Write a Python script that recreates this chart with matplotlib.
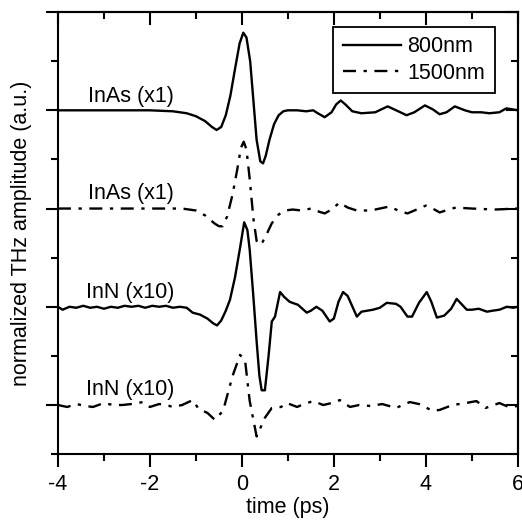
import numpy as np
import matplotlib.pyplot as plt
from matplotlib.ticker import MultipleLocator

plt.rcParams['font.family'] = ['Liberation Sans', 'DejaVu Sans']
plt.rcParams['axes.unicode_minus'] = False

# 数据：时间 (ps) 与归一化 THz 振幅（相对于各自基线的偏移）
t_inas800 = [-4.0, -3.0, -2.0, -1.5, -1.2, -1.0, -0.8, -0.65, -0.55, -0.45, -0.35, -0.25,
             -0.15, -0.05, 0.03, 0.1, 0.18, 0.25, 0.32, 0.4, 0.46, 0.52, 0.6, 0.7, 0.8,
             0.9, 1.0, 1.2, 1.4, 1.55, 1.65, 1.8, 1.95, 2.05, 2.15, 2.25, 2.4, 2.6, 2.9,
             3.17, 3.4, 3.58, 3.75, 3.98, 4.15, 4.3, 4.45, 4.63, 4.85, 5.0, 5.2, 5.38,
             5.6, 5.75, 6.0]
a_inas800 = [0.0, 0.0, 0.0, -0.01, -0.03, -0.06, -0.11, -0.17, -0.2, -0.17, -0.05, 0.15,
             0.42, 0.68, 0.79, 0.74, 0.5, 0.1, -0.3, -0.52, -0.54, -0.46, -0.3, -0.14,
             -0.05, -0.01, 0.0, 0.0, -0.01, 0.0, -0.03, -0.07, -0.02, 0.06, 0.1, 0.06,
             -0.01, -0.03, -0.02, 0.04, -0.01, -0.05, -0.02, 0.05, 0.01, -0.04, -0.02,
             0.04, 0.0, -0.02, -0.02, -0.03, -0.02, 0.02, 0.0]

t_inas1500 = [-4.0, -3.0, -2.0, -1.3, -1.0, -0.8, -0.6, -0.5, -0.42, -0.32, -0.2, -0.1,
              -0.02, 0.04, 0.1, 0.17, 0.25, 0.32, 0.38, 0.45, 0.55, 0.65, 0.8, 0.95,
              1.1, 1.3, 1.5, 1.6, 1.8, 1.95, 2.12, 2.3, 2.5, 2.8, 3.2, 3.4, 3.6, 3.8,
              4.0, 4.15, 4.3, 4.5, 4.65, 5.0, 5.5, 6.0]
a_inas1500 = [0.0, 0.0, 0.0, 0.0, -0.02, -0.07, -0.15, -0.18, -0.18, -0.08, 0.15, 0.4,
              0.62, 0.68, 0.6, 0.3, -0.1, -0.33, -0.37, -0.34, -0.25, -0.15, -0.06,
              -0.02, -0.01, -0.02, 0.0, -0.02, -0.05, -0.01, 0.06, 0.01, -0.02, -0.02,
              0.02, -0.02, -0.05, -0.01, 0.03, 0.0, -0.04, -0.01, 0.01, 0.0, -0.01, 0.0]

t_inn800 = [-4.0, -3.9, -3.75, -3.6, -3.45, -3.3, -3.15, -3.0, -2.85, -2.7, -2.55, -2.4,
            -2.25, -2.1, -1.95, -1.8, -1.65, -1.5, -1.35, -1.2, -1.07, -0.91, -0.75,
            -0.62, -0.54, -0.45, -0.35, -0.26, -0.15, -0.04, 0.05, 0.12, 0.17, 0.25,
            0.32, 0.38, 0.43, 0.5, 0.58, 0.65, 0.72, 0.83, 0.92, 1.04, 1.22, 1.41,
            1.5, 1.62, 1.75, 1.91, 2.0, 2.1, 2.2, 2.3, 2.5, 2.6, 2.85, 3.0, 3.15, 3.35,
            3.45, 3.6, 3.7, 3.85, 4.02, 4.12, 4.24, 4.4, 4.55, 4.67, 4.89, 5.0, 5.15,
            5.33, 5.45, 5.6, 5.76, 5.9, 6.0]
a_inn800 = [0.0, -0.03, 0.0, -0.01, 0.01, -0.01, 0.0, -0.02, 0.0, -0.01, 0.01, 0.0,
            0.01, -0.01, 0.01, 0.0, 0.01, -0.01, 0.0, -0.01, -0.06, -0.08, -0.12,
            -0.17, -0.19, -0.14, -0.04, 0.07, 0.3, 0.6, 0.86, 0.78, 0.58, 0.1, -0.35,
            -0.7, -0.85, -0.85, -0.5, -0.15, -0.1, 0.15, 0.1, 0.05, 0.02, -0.06,
            -0.04, 0.0, -0.04, -0.15, -0.12, 0.05, 0.15, 0.11, -0.1, -0.05, -0.03,
            -0.01, 0.04, 0.03, 0.0, -0.1, -0.1, 0.04, 0.15, 0.05, -0.11, -0.09, -0.02,
            0.08, -0.03, -0.03, -0.02, -0.05, -0.04, -0.03, 0.0, -0.01, 0.0]

t_inn1500 = [-4.0, -3.8, -3.6, -3.4, -3.24, -3.0, -2.8, -2.6, -2.4, -2.15, -2.0, -1.8,
             -1.65, -1.5, -1.3, -1.07, -0.94, -0.75, -0.59, -0.41, -0.2, -0.04, 0.07,
             0.17, 0.32, 0.5, 0.65, 0.85, 0.98, 1.2, 1.35, 1.55, 1.77, 1.95, 2.13,
             2.35, 2.55, 2.8, 3.05, 3.35, 3.5, 3.65, 3.85, 4.15, 4.3, 4.58, 4.87, 5.1,
             5.3, 5.6, 5.8, 6.0]
a_inn1500 = [0.0, -0.02, 0.01, -0.01, -0.02, 0.02, 0.0, 0.0, 0.01, 0.03, -0.02, 0.01,
             0.0, -0.02, 0.0, 0.05, -0.04, -0.08, -0.15, -0.06, 0.3, 0.51, 0.45, 0.04,
             -0.32, -0.13, -0.03, -0.02, 0.02, -0.02, 0.01, 0.04, 0.0, 0.02, 0.05,
             -0.02, 0.0, -0.01, 0.01, -0.03, 0.0, 0.03, 0.01, -0.06, -0.05, 0.0, 0.02,
             0.04, -0.03, 0.02, -0.02, -0.01]

offsets = [4, 3, 2, 1]
labels = ['InAs (x1)', 'InAs (x1)', 'InN (x10)', 'InN (x10)']
label_y = [4.08, 3.10, 2.09, 1.10]

fs = 15.5
fig = plt.figure(figsize=(5.22, 5.25), dpi=100)
ax = fig.add_axes([0.111, 0.135, 0.881, 0.842])

solid = '-'
dashdot = (0, (5.5, 3.2, 1.4, 3.2))
lw = 1.7

ax.plot(t_inas800, np.array(a_inas800) + offsets[0], color='black', lw=lw, ls=solid,
        label='800nm')
ax.plot(t_inas1500, np.array(a_inas1500) + offsets[1], color='black', lw=lw, ls=dashdot,
        label='1500nm')
ax.plot(t_inn800, np.array(a_inn800) + offsets[2], color='black', lw=lw, ls=solid)
ax.plot(t_inn1500, np.array(a_inn1500) + offsets[3], color='black', lw=lw, ls=dashdot)

for lab, y in zip(labels, label_y):
    ax.text(-2.42, y, lab, ha='center', va='baseline', fontsize=fs)

ax.set_xlim(-4, 6)
ax.set_ylim(0.5, 5.0)
ax.xaxis.set_major_locator(MultipleLocator(2))
ax.xaxis.set_minor_locator(MultipleLocator(1))
ax.yaxis.set_major_locator(MultipleLocator(1))
ax.yaxis.set_minor_locator(MultipleLocator(0.5))

ax.tick_params(which='both', direction='out', width=1.5, labelsize=fs, pad=5)
ax.tick_params(which='major', length=9)
ax.tick_params(which='minor', length=5)
ax.tick_params(axis='y', which='both', labelleft=False)
for s in ax.spines.values():
    s.set_linewidth(1.5)

# 顶部和右侧的刻度向内
ax_top = ax.secondary_xaxis('top')
ax_top.xaxis.set_major_locator(MultipleLocator(2))
ax_top.xaxis.set_minor_locator(MultipleLocator(1))
ax_top.tick_params(which='both', direction='in', width=1.5, labeltop=False)
ax_top.tick_params(which='major', length=9)
ax_top.tick_params(which='minor', length=5)
ax_top.spines['top'].set_linewidth(1.5)
ax_right = ax.secondary_yaxis('right')
ax_right.yaxis.set_major_locator(MultipleLocator(1))
ax_right.yaxis.set_minor_locator(MultipleLocator(0.5))
ax_right.tick_params(which='both', direction='in', width=1.5, labelright=False)
ax_right.tick_params(which='major', length=9)
ax_right.tick_params(which='minor', length=5)
ax_right.spines['right'].set_linewidth(1.5)

ax.set_xlabel('time (ps)', fontsize=fs, labelpad=2)
ax.set_ylabel('normalized THz amplitude (a.u.)', fontsize=fs, labelpad=10)

leg = ax.legend(loc='upper right', bbox_to_anchor=(0.95, 0.967), fontsize=fs,
                fancybox=False, edgecolor='black', framealpha=1, handlelength=2.7,
                borderpad=0.45, labelspacing=0.25, handletextpad=0.3, borderaxespad=0)
leg.get_frame().set_linewidth(1.3)

plt.savefig('out.png', dpi=100)
